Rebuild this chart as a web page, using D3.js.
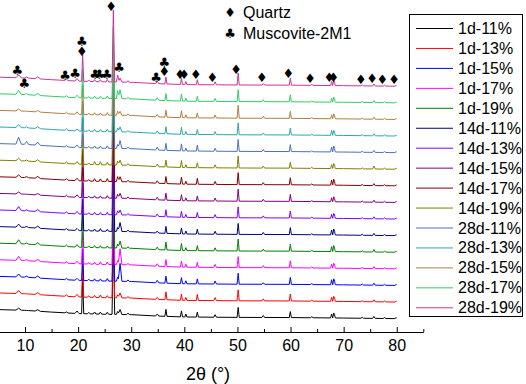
<!DOCTYPE html>
<html>
<head>
<meta charset="utf-8">
<script src="https://cdn.jsdelivr.net/npm/d3@7"></script>
<style>
  body { margin: 0; background: #fff; }
  text { font-family: "Liberation Sans", Arial, sans-serif; }
</style>
</head>
<body>
<div id="chart"></div>
<script>
// series labels and colours (bottom to top)
const seriesNames = ["1d-11%", "1d-13%", "1d-15%", "1d-17%", "1d-19%",
  "14d-11%", "14d-13%", "14d-15%", "14d-17%", "14d-19%",
  "28d-11%", "28d-13%", "28d-15%", "28d-17%", "28d-19%"];
const seriesColors = ["#000000", "#ff0000", "#0000ff", "#ff00ff", "#008000",
  "#000080", "#8000ff", "#800080", "#800000", "#808000",
  "#4a72b8", "#2fa8a8", "#b08040", "#33cc66", "#cc3399"];

// background (counts above each curve's offset)
const bgAngles = [5, 10, 15, 20, 25, 30, 35, 40, 50, 60, 70, 80];
const bgCounts = [1350, 1305, 1200, 1110, 1070, 1045, 960, 905, 880, 870, 840, 805];

// reflections, 2theta and half base width
const peakAngles = [8.8, 10.3, 12.4, 17.8, 19.8, 20.86, 22.0, 23.1, 24.2, 25.5,
  26.64, 27.45, 27.9, 29.4, 34.9, 36.54, 39.46, 40.29, 42.45, 45.8,
  50.14, 54.87, 59.96, 64.0, 67.74, 68.14, 68.3, 73.5, 75.7, 77.7, 79.9];
const peakWidths = [0.5, 0.4, 0.5, 0.3, 0.4, 0.2, 0.25, 0.25, 0.25, 0.25,
  0.25, 0.25, 0.35, 0.25, 0.3, 0.2, 0.2, 0.2, 0.2, 0.25,
  0.2, 0.25, 0.2, 0.25, 0.2, 0.2, 0.15, 0.25, 0.25, 0.25, 0.25];

// peak heights per sample (counts)
const h1d11  = [120, 0, 90, 60, 150, 2100, 90, 120, 120, 120, 4600, 180, 300, 90, 120, 420, 360, 180, 300, 150, 600, 120, 360, 60, 240, 300, 150, 60, 120, 60, 60];
const h1d13  = [180, 0, 120, 90, 150, 2000, 90, 120, 150, 120, 4500, 180, 300, 90, 120, 480, 360, 180, 360, 180, 660, 120, 420, 60, 240, 300, 150, 60, 120, 60, 60];
const h1d15  = [180, 60, 120, 90, 120, 1900, 90, 120, 120, 150, 4400, 240, 1080, 90, 150, 420, 360, 180, 300, 180, 660, 90, 420, 60, 300, 360, 150, 60, 120, 60, 60];
const h1d17  = [240, 60, 120, 90, 150, 1900, 90, 120, 150, 150, 4400, 240, 960, 90, 150, 420, 360, 180, 300, 180, 660, 120, 420, 60, 240, 300, 150, 60, 120, 60, 60];
const h1d19  = [240, 60, 120, 90, 150, 2000, 90, 120, 120, 120, 4500, 240, 420, 90, 150, 480, 420, 180, 300, 180, 720, 120, 420, 60, 300, 360, 150, 60, 150, 60, 60];
const h14d11 = [180, 60, 120, 90, 120, 1900, 90, 120, 150, 120, 4400, 240, 540, 90, 120, 420, 360, 180, 300, 180, 660, 120, 420, 60, 300, 360, 150, 60, 120, 60, 60];
const h14d13 = [240, 60, 120, 90, 150, 1900, 90, 120, 120, 150, 4400, 240, 300, 90, 150, 420, 360, 180, 300, 180, 660, 120, 420, 60, 240, 300, 150, 60, 120, 60, 60];
const h14d15 = [120, 0, 90, 90, 150, 1800, 90, 120, 120, 150, 4300, 240, 300, 90, 150, 420, 360, 180, 300, 180, 720, 120, 420, 60, 240, 300, 150, 60, 120, 60, 60];
const h14d17 = [150, 60, 120, 90, 150, 1900, 90, 150, 150, 180, 4400, 300, 300, 90, 150, 420, 420, 180, 360, 180, 720, 120, 420, 60, 300, 360, 150, 60, 120, 60, 60];
const h14d19 = [150, 60, 120, 90, 150, 1800, 90, 180, 180, 150, 4300, 240, 300, 90, 150, 420, 420, 180, 300, 180, 720, 120, 360, 60, 240, 300, 150, 60, 180, 60, 60];
const h28d11 = [420, 180, 180, 90, 150, 1800, 90, 120, 120, 150, 4300, 240, 480, 90, 180, 420, 420, 180, 360, 180, 720, 120, 420, 60, 300, 360, 150, 60, 120, 60, 60];
const h28d13 = [180, 60, 120, 90, 120, 1800, 90, 120, 120, 150, 4300, 240, 300, 90, 150, 420, 420, 180, 300, 180, 720, 120, 420, 60, 300, 300, 150, 60, 120, 60, 60];
const h28d15 = [120, 0, 90, 90, 150, 1800, 90, 120, 120, 150, 4300, 240, 240, 90, 150, 420, 420, 180, 300, 180, 780, 120, 420, 60, 240, 300, 150, 60, 120, 60, 60];
const h28d17 = [240, 60, 120, 90, 150, 1700, 90, 120, 120, 150, 4300, 480, 540, 90, 150, 420, 420, 180, 300, 180, 720, 120, 420, 60, 240, 300, 150, 60, 120, 60, 60];
const h28d19 = [180, 60, 120, 90, 150, 1600, 90, 120, 120, 150, 4340, 420, 240, 90, 150, 420, 360, 180, 300, 180, 720, 90, 420, 60, 240, 300, 150, 60, 120, 60, 60];
const peakHeights = [h1d11, h1d13, h1d15, h1d17, h1d19, h14d11, h14d13, h14d15,
  h14d17, h14d19, h28d11, h28d13, h28d15, h28d17, h28d19];

const offsetStep = 1000;

// phase markers: [2theta, counts]
const quartzMarks = [[20.68, 16886], [26.19, 19596], [36.23, 15663], [39.19, 15482], [39.94, 15482],
  [42.15, 15482], [45.27, 15319], [49.73, 15825], [54.58, 15361], [59.59, 15584], [63.67, 15241],
  [67.31, 15361], [68.06, 15361], [73.22, 15181], [75.35, 15300], [77.29, 15181], [79.49, 15181]];
const muscoviteMarks = [[8.55, 15723], [9.87, 15000], [17.53, 15422], [19.42, 15602], [20.68, 17488],
  [23.18, 15482], [23.99, 15482], [25.39, 15482], [27.70, 15904], [34.67, 15361], [36.23, 16265]];

const xTicks = [10, 20, 30, 40, 50, 60, 70, 80];
const xMinorTicks = [15, 25, 35, 45, 55, 65, 75, 85];

const width = 526, height = 384;

const svg = d3.select("#chart").append("svg")
  .attr("width", width)
  .attr("height", height)
  .style("background", "#fff");

const x = d3.scaleLinear().domain([5, 85]).range([-1.55, 423.3]);
const y = d3.scaleLinear().domain([0, 20000]).range([332, 0]);
const bg = d3.scaleLinear().domain(bgAngles).range(bgCounts);

function profile(heights, offset) {
  const knots = new Set(bgAngles);
  peakAngles.forEach((p, k) => {
    knots.add(p - peakWidths[k]);
    knots.add(p);
    knots.add(p + peakWidths[k]);
  });
  const angles = Array.from(knots).filter(a => a >= 5 && a <= 80).sort(d3.ascending);
  return angles.map(a => [a, offset + bg(a) + d3.sum(peakAngles, (p, k) =>
    heights[k] * Math.max(0, 1 - Math.abs(a - p) / peakWidths[k]))]);
}

const line = d3.line().x(d => x(d[0])).y(d => y(d[1]));

svg.append("g").selectAll("path")
  .data(seriesNames)
  .join("path")
  .attr("fill", "none")
  .attr("stroke", (d, i) => seriesColors[i])
  .attr("stroke-width", 1)
  .attr("d", (d, i) => line(profile(peakHeights[i], i * offsetStep)));

// x axis, ticks pointing inward
const axis = svg.append("g").attr("transform", `translate(0,${y(0)})`);
axis.call(d3.axisBottom(x).tickValues(xTicks).tickSizeInner(-5).tickSizeOuter(0).tickPadding(8));
axis.append("g").call(d3.axisBottom(x).tickValues(xMinorTicks).tickSizeInner(-3).tickSizeOuter(0).tickFormat(""))
  .select(".domain").remove();
axis.selectAll("text").attr("font-size", 16).attr("fill", "#000")
  .style("font-family", '"Liberation Sans", Arial, sans-serif');
axis.selectAll("line, path").attr("stroke", "#000");

svg.append("text")
  .attr("x", 208).attr("y", 380)
  .attr("text-anchor", "middle")
  .attr("font-size", 18)
  .text("2θ (°)");

// phase markers over the peaks
function marks(list, glyph) {
  svg.append("g").selectAll("text")
    .data(list)
    .join("text")
    .attr("x", d => x(d[0]))
    .attr("y", d => y(d[1]))
    .attr("text-anchor", "middle")
    .attr("dominant-baseline", "central")
    .attr("font-size", 13)
    .style("font-family", '"DejaVu Sans", sans-serif')
    .text(glyph);
}
marks(quartzMarks, "♦");
marks(muscoviteMarks, "♣");

// phase key
const key = svg.append("g");
[["♦", "Quartz", 12], ["♣", "Muscovite-2M1", 33]].forEach(([g, label, cy]) => {
  key.append("text").attr("x", 230).attr("y", cy).attr("text-anchor", "middle")
    .attr("dominant-baseline", "central").attr("font-size", 13)
    .style("font-family", '"DejaVu Sans", sans-serif').text(g);
  key.append("text").attr("x", 243).attr("y", cy).attr("dominant-baseline", "central")
    .attr("font-size", 16).text(label);
});

// series legend
const legend = svg.append("g");
legend.append("rect")
  .attr("x", 409.5).attr("y", 14.5).attr("width", 113).attr("height", 302)
  .attr("fill", "#fff").attr("stroke", "#000");
const rows = legend.selectAll("g.row")
  .data(seriesNames)
  .join("g")
  .attr("class", "row")
  .attr("transform", (d, i) => `translate(0,${28.5 + i * 19.95})`);
rows.append("line")
  .attr("x1", 416).attr("x2", 453)
  .attr("stroke", (d, i) => seriesColors[i]);
rows.append("text")
  .attr("x", 458).attr("dominant-baseline", "central")
  .attr("font-size", 16)
  .text(d => d);
</script>
</body>
</html>
